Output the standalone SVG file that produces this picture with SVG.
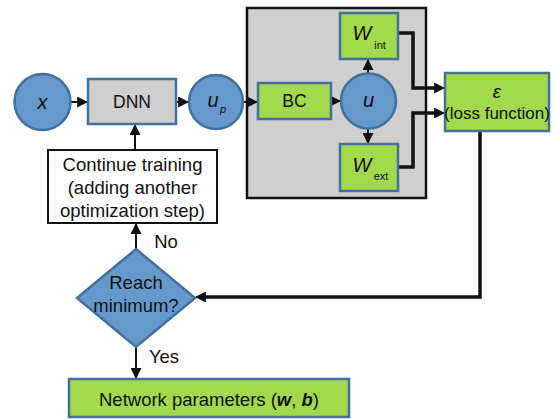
<svg xmlns="http://www.w3.org/2000/svg" width="553" height="419" viewBox="0 0 553 419">
<style>
text{font-family:"Liberation Sans",Arial,sans-serif;fill:#111;text-anchor:middle}
.t{font-size:17.5px}
.b{font-size:18.5px}
.it{font-style:italic}
.blue{fill:#6699cb;stroke:#41719c;stroke-width:2.5}
.green{fill:#a2d94d;stroke:#41719c;stroke-width:2.5}
.ln{fill:none;stroke:#111;stroke-width:2}
.thk{fill:none;stroke:#111;stroke-width:3.5}
</style>
<defs>
<marker id="ah" viewBox="0 0 10 10" refX="9" refY="5" markerWidth="11" markerHeight="11" markerUnits="userSpaceOnUse" orient="auto">
<path d="M0,0L10,5L0,10z" fill="#111"/>
</marker>
</defs>
<rect width="553" height="419" fill="#fff"/>
<g id="box-grey"><rect x="247" y="8" width="179" height="190" fill="#d0cfcf" stroke="#111" stroke-width="2.5"/></g>
<g id="connectors">
<line class="ln" x1="70" y1="102" x2="87" y2="102" marker-end="url(#ah)"/>
<line class="ln" x1="176" y1="102" x2="188" y2="102" marker-end="url(#ah)"/>
<line class="ln" x1="243" y1="102" x2="257" y2="102" marker-end="url(#ah)"/>
<line class="ln" x1="331" y1="101" x2="340" y2="101" marker-end="url(#ah)"/>
<line class="ln" x1="368" y1="73" x2="368" y2="60" marker-end="url(#ah)"/>
<line class="ln" x1="368" y1="129" x2="368" y2="143" marker-end="url(#ah)"/>
<polyline class="thk" points="398,33 413,33 413,88 435,88"/>
<line class="ln" x1="433" y1="88" x2="444" y2="88" marker-end="url(#ah)"/>
<polyline class="thk" points="398,167 413,167 413,113 435,113"/>
<line class="ln" x1="433" y1="113" x2="444" y2="113" marker-end="url(#ah)"/>
<polyline class="thk" points="480,132 480,297 205,297"/>
<line class="ln" x1="207" y1="297" x2="196" y2="297" marker-end="url(#ah)"/>
<line class="ln" x1="136" y1="249" x2="136" y2="224" marker-end="url(#ah)"/>
<line class="ln" x1="135" y1="150" x2="135" y2="125" marker-end="url(#ah)"/>
<line class="ln" x1="136" y1="347" x2="136" y2="378" marker-end="url(#ah)"/>
<text class="b" x="166" y="248">No</text>
<text class="b" x="164" y="363">Yes</text>
</g>
<g id="x"><circle class="blue" cx="42.5" cy="102" r="28"/><text class="it" x="42.5" y="109" font-size="20">x</text></g>
<g id="dnn"><rect x="88" y="79" width="88" height="45" fill="#d0cfcf" stroke="#41719c" stroke-width="2.5"/><text class="t" x="132" y="108">DNN</text></g>
<g id="up"><circle class="blue" cx="216" cy="102" r="27"/><text class="it" x="213" y="107" font-size="20">u</text><text class="it" x="223" y="113" font-size="11">p</text></g>
<g id="bc"><rect class="green" x="258" y="83" width="73" height="36"/><text class="t" x="294.5" y="107">BC</text></g>
<g id="u"><circle class="blue" cx="368.5" cy="101" r="27.5"/><text class="it" x="368.5" y="107" font-size="20">u</text></g>
<g id="wint"><rect class="green" x="340" y="13" width="58" height="46"/><text class="it" x="362" y="40" font-size="20">W</text><text x="380" y="49" font-size="11">int</text></g>
<g id="wext"><rect class="green" x="340" y="144" width="58" height="47"/><text class="it" x="362" y="172" font-size="20">W</text><text x="381" y="180" font-size="11">ext</text></g>
<g id="loss"><rect class="green" x="445" y="73" width="104" height="58"/><text class="it" x="497" y="98" font-size="19">ε</text><text x="497" y="119" font-size="17">(loss function)</text></g>
<g id="continue"><rect x="48" y="150" width="169" height="73" fill="#fff" stroke="#111" stroke-width="2"/>
<text class="b" x="132.5" y="171">Continue training</text>
<text class="b" x="132.5" y="194">(adding another</text>
<text class="b" x="132.5" y="217">optimization step)</text></g>
<g id="decision"><polygon class="blue" points="136,249 195,298 136,347 77,298"/>
<text class="b" x="136" y="289">Reach</text><text class="b" x="136" y="312">minimum?</text></g>
<g id="params"><rect class="green" x="69" y="379" width="280" height="38"/><text class="b" x="209" y="406">Network parameters (<tspan font-style="italic" font-weight="bold">w</tspan>, <tspan font-style="italic" font-weight="bold">b</tspan>)</text></g>
</svg>
